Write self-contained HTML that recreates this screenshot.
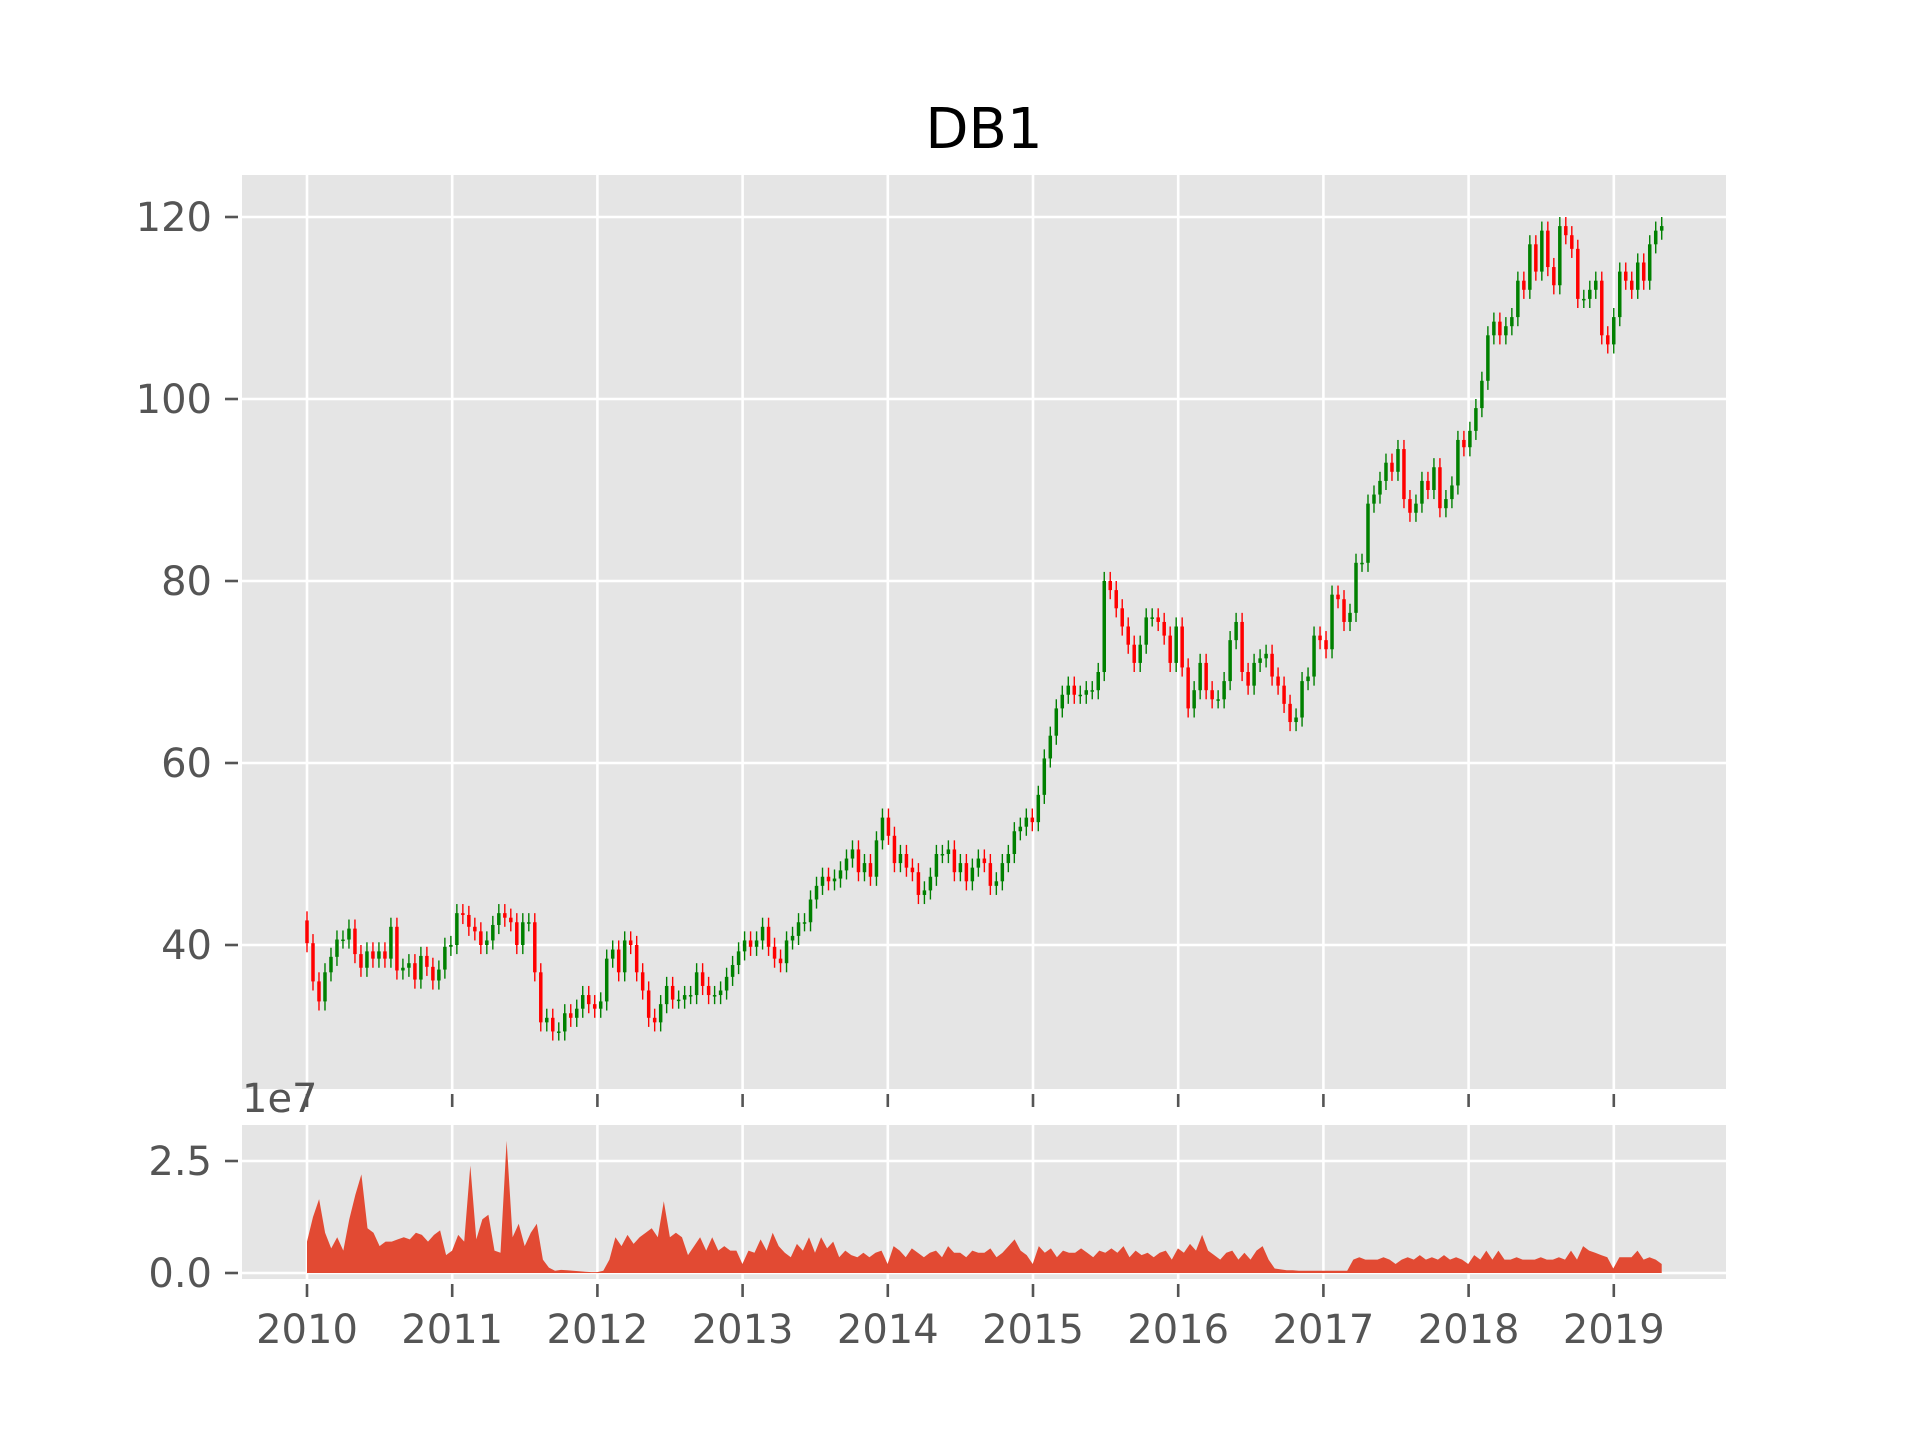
<!DOCTYPE html>
<html><head><meta charset="utf-8"><style>
html,body{margin:0;padding:0;background:#fff;}
svg{display:block;}
text{font-family:"DejaVu Sans","Liberation Sans",sans-serif;}
</style></head><body>
<svg id="chart" width="1920" height="1440" viewBox="0 0 1920 1440" xmlns="http://www.w3.org/2000/svg">
<rect x="0" y="0" width="1920" height="1440" fill="#ffffff"/>
<text x="984" y="148" font-size="56" text-anchor="middle" fill="#000">DB1</text>
<rect x="242" y="175" width="1484" height="914" fill="#E5E5E5"/>
<rect x="242" y="1125" width="1484" height="154" fill="#E5E5E5"/>
<g id="grid"></g>
<g id="candles"></g>
<g id="volume"></g>
<g id="axes"></g>
<text x="242" y="1112" font-size="40" fill="#555">1e7</text>
</svg>
<script>
const priceTicks = [40, 60, 80, 100, 120];
const volTicks = [0, 2.5];
const volTickLabels = ["0.0", "2.5"];
const years = [2010, 2011, 2012, 2013, 2014, 2015, 2016, 2017, 2018, 2019];
const closes = [
40.2,36,33.8,37,38.7,40.6,40.6,41.8,39,37.5,39.3,38.5,39.3,38.5,42,37.2,37.5,38,36.2,38.8,37.6,36.1,37.3,39.8,
40,43.5,43.3,42,41.5,40,40.5,42.2,43.5,43,42.5,40,42.5,42.5,37,31.5,32,30.5,30.5,32.5,32,33,34.5,33.5,
33,33.8,38.5,39.5,37,40.5,40,37,35,32,31.5,33.5,35.5,34,34,34.5,34.5,37,35.5,34.5,34.5,35,36.5,37.8,
39.3,40.5,39.8,40.5,42,39.8,38.5,38,40.5,41,42.5,42.5,45,46.5,47.5,47,47.3,48.2,49.5,50.5,48,49,47.5,51.5,
54,52,49,50,48.5,48,45.5,46,47.5,50,50,50.5,48,49,47,48.5,49.5,49,46.5,47,49,50,52.5,53,
54,53.5,56.5,60.5,63,66,67.5,68.5,67.5,67.5,68,68,70,80,79,77,75,73,71,73,76,76,75.5,74,71,
75,70.5,66,68,71,68,67,67,69,73.5,75.5,70,68.5,71,71.5,72,69.5,68.5,66.5,64.5,65,69,69.5,74,73.5,
72.5,78.5,78,75.5,76.5,82,82,88.5,89.5,91,93,92,94.5,89,87.5,88.5,91,90,92.5,88,89,90.5,95.5,94.7,96.5,
99,102,107,108.5,107,108,109,113,112,117,114,118.5,114.5,112.5,119,118,116.5,111,111,112,113,107,106,109,
114,113,112,115,113,117,118.5,119];
const volumes = [
0.7,1.25,1.65,0.9,0.55,0.8,0.5,1.2,1.75,2.2,1.0,0.9,0.6,0.7,0.7,0.75,0.8,0.75,0.9,0.85,0.7,0.85,0.95,0.4,
0.5,0.85,0.7,2.4,0.75,1.2,1.3,0.5,0.45,2.95,0.8,1.1,0.6,0.9,1.1,0.3,0.12,0.05,0.07,0.06,0.05,0.04,0.03,0.02,
0.02,0.05,0.3,0.8,0.6,0.85,0.65,0.8,0.9,1.0,0.8,1.6,0.8,0.9,0.8,0.4,0.6,0.8,0.5,0.8,0.5,0.6,0.5,0.5,
0.2,0.5,0.45,0.75,0.5,0.9,0.6,0.45,0.35,0.65,0.5,0.8,0.45,0.8,0.55,0.7,0.35,0.5,0.4,0.35,0.45,0.35,0.45,0.5,
0.2,0.6,0.5,0.35,0.55,0.45,0.35,0.45,0.5,0.35,0.6,0.45,0.45,0.35,0.5,0.45,0.45,0.55,0.35,0.45,0.6,0.75,0.5,0.4,
0.2,0.6,0.45,0.55,0.35,0.5,0.45,0.45,0.55,0.45,0.35,0.5,0.45,0.55,0.45,0.6,0.35,0.5,0.4,0.45,0.35,0.45,0.5,0.3,
0.55,0.45,0.65,0.5,0.85,0.5,0.4,0.3,0.45,0.5,0.3,0.45,0.3,0.5,0.6,0.3,0.1,0.08,0.06,0.06,0.05,0.05,0.05,0.05,
0.05,0.05,0.05,0.05,0.05,0.3,0.35,0.3,0.3,0.3,0.35,0.3,0.2,0.3,0.35,0.3,0.4,0.3,0.35,0.3,0.4,0.3,0.35,0.3,
0.2,0.4,0.3,0.5,0.3,0.5,0.3,0.3,0.35,0.3,0.3,0.3,0.35,0.3,0.3,0.35,0.3,0.5,0.3,0.6,0.5,0.45,0.4,0.35,
0.1,0.35,0.35,0.35,0.5,0.3,0.35,0.3,0.2];
const startYear = 2010.0;
const endYear = 2019.33;

const NS = "http://www.w3.org/2000/svg";
function xScale(yr){ return 307 + (yr - 2010) * 145.2; }
function yPrice(v){ return 217 + (120 - v) * 9.1; }
function yVol(v){ return 1273 - v * 44.8; }
function mk(tag, attrs, parent){
  const e = document.createElementNS(NS, tag);
  for (const k in attrs) e.setAttribute(k, attrs[k]);
  parent.appendChild(e);
  return e;
}
const grid = document.getElementById('grid');
const axes = document.getElementById('axes');
const candles = document.getElementById('candles');
const volG = document.getElementById('volume');

priceTicks.forEach(v => {
  const y = yPrice(v);
  const g = mk('line', {x1:242, x2:1726, y1:y, y2:y, stroke:'#fff', 'stroke-width':2.6}, grid);
  
  
  const t = mk('line', {x1:225, x2:238, y1:y, y2:y, stroke:'#555', 'stroke-width':2.6}, axes);
  
  
  const l = mk('text', {x:212, y:y + 14, 'font-size':40, 'text-anchor':'end', fill:'#555'}, axes);
  l.textContent = String(v);
  
  
});
volTicks.forEach((v, i) => {
  const y = yVol(v);
  const g = mk('line', {x1:242, x2:1726, y1:y, y2:y, stroke:'#fff', 'stroke-width':2.6}, grid);
  
  
  const t = mk('line', {x1:225, x2:238, y1:y, y2:y, stroke:'#555', 'stroke-width':2.6}, axes);
  
  
  const l = mk('text', {x:212, y:y + 14, 'font-size':40, 'text-anchor':'end', fill:'#555'}, axes);
  l.textContent = volTickLabels[i];
  
  
});
years.forEach(yr => {
  const x = xScale(yr);
  const g1 = mk('line', {x1:x, x2:x, y1:175, y2:1089, stroke:'#fff', 'stroke-width':2.6}, grid);
  
  
  const g2 = mk('line', {x1:x, x2:x, y1:1125, y2:1279, stroke:'#fff', 'stroke-width':2.6}, grid);
  
  
  const t1 = mk('line', {x1:x, x2:x, y1:1094, y2:1107, stroke:'#555', 'stroke-width':2.6}, axes);
  
  
  const t2 = mk('line', {x1:x, x2:x, y1:1284, y2:1297, stroke:'#555', 'stroke-width':2.6}, axes);
  
  
  const l = mk('text', {x:x, y:1343, 'font-size':40, 'text-anchor':'middle', fill:'#555'}, axes);
  l.textContent = String(yr);
  
  
});

// candles
const n = closes.length;
for (let i = 0; i < n; i++) {
  const yr = startYear + i * (endYear - startYear) / (n - 1);
  const x = xScale(yr);
  const c = closes[i];
  const o = i > 0 ? closes[i - 1] : c + 2.5;
  const up = c >= o;
  const col = up ? '#008000' : '#ff0000';
  const hi = Math.max(o, c) + 1.0, lo = Math.min(o, c) - 1.0;
  const w = mk('line', {x1:x, x2:x, y1:yPrice(hi), y2:yPrice(lo), stroke:col, 'stroke-width':1.4}, candles);
  
  
  const yt = yPrice(Math.max(o, c)), yb = yPrice(Math.min(o, c));
  const r = mk('rect', {x:x - 1.75, y:yt, width:3.5, height:Math.max(1.5, yb - yt), fill:col}, candles);
  
  
}

// volume area
const m = volumes.length;
let pts = xScale(startYear) + ',' + yVol(0) + ' ';
for (let i = 0; i < m; i++) {
  const yr = startYear + i * (endYear - startYear) / (m - 1);
  pts += xScale(yr).toFixed(1) + ',' + yVol(volumes[i]).toFixed(1) + ' ';
}
pts += xScale(endYear) + ',' + yVol(0);
const area = mk('polygon', {points:pts, fill:'#E24A33'}, volG);


</script>
</body></html>
